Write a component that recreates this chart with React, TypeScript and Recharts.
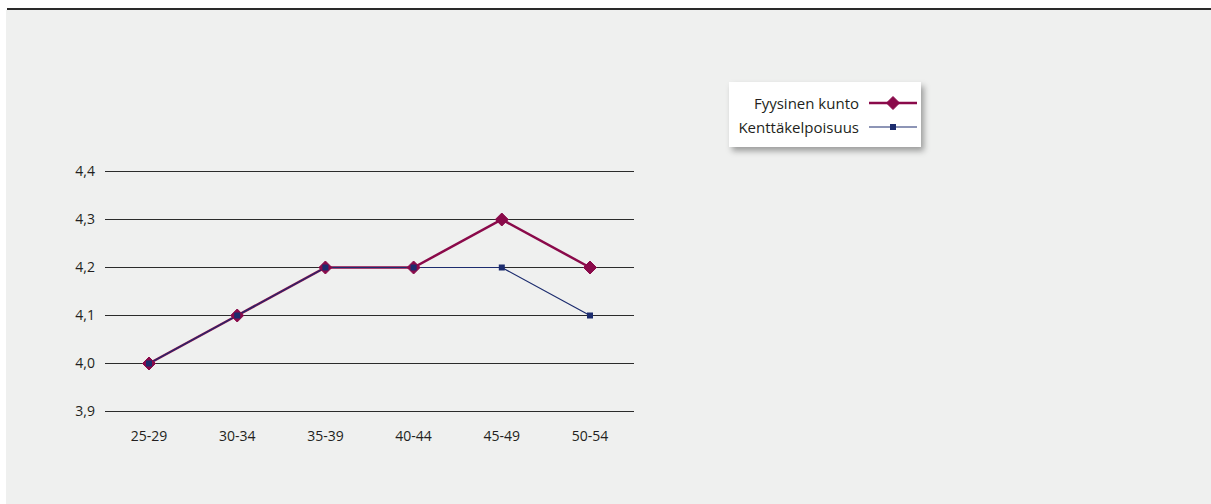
import React from "react";
import { LineChart, Line, XAxis, YAxis, CartesianGrid } from "recharts";

const ageGroups = ["25-29", "30-34", "35-39", "40-44", "45-49", "50-54"];
const fyysinenKunto = [4.0, 4.1, 4.2, 4.2, 4.3, 4.2];
const kenttakelpoisuus = [4.0, 4.1, 4.2, 4.2, 4.2, 4.1];
const yTicks = [3.9, 4.0, 4.1, 4.2, 4.3, 4.4];

const SERIES = [
  { key: "fyysinen", name: "Fyysinen kunto", color: "#8a0a4a" },
  { key: "kentta", name: "Kenttäkelpoisuus", color: "#1c2c6e" },
];

const data = ageGroups.map((g, i) => ({
  group: g,
  fyysinen: fyysinenKunto[i],
  kentta: kenttakelpoisuus[i],
}));

const FONT = "'Open Sans', 'Noto Sans', sans-serif";
const fmt = (v: number) => v.toFixed(1).replace(".", ",");

const Diamond = (props: any) => {
  const { cx, cy, color, r = 6 } = props;
  if (cx == null || cy == null) return null;
  return (
    <path
      d={`M${cx},${cy - r} L${cx + r},${cy} L${cx},${cy + r} L${cx - r},${cy} Z`}
      fill={color}
      stroke={color}
      strokeWidth={1}
    />
  );
};

const Square = (props: any) => {
  const { cx, cy, color, s = 6 } = props;
  if (cx == null || cy == null) return null;
  return <rect x={cx - s / 2} y={cy - s / 2} width={s} height={s} fill={color} />;
};

const LegendBox = () => (
  <div
    style={{
      position: "absolute",
      left: 729,
      top: 82,
      width: 192,
      height: 65,
      background: "#ffffff",
      boxShadow: "3px 4px 6px rgba(0,0,0,0.35)",
      fontFamily: FONT,
      fontSize: 15,
      color: "#231f20",
      boxSizing: "border-box",
      paddingTop: 9,
    }}
  >
    {SERIES.map((s, i) => (
      <div
        key={s.key}
        style={{ display: "flex", alignItems: "center", height: 24, justifyContent: "flex-end", paddingRight: 4 }}
      >
        <span style={{ marginRight: 10, lineHeight: "24px" }}>{s.name}</span>
        <svg width={48} height={16}>
          <line x1={0} y1={8} x2={48} y2={8} stroke={s.color} strokeWidth={i === 0 ? 2.5 : 1.2} />
          {i === 0 ? <Diamond cx={24} cy={8} color={s.color} r={6.5} /> : <Square cx={24} cy={8} color={s.color} s={6} />}
        </svg>
      </div>
    ))}
  </div>
);

export default function App() {
  return (
    <div style={{ position: "absolute", left: 0, top: 0, width: 1211, height: 504, background: "#ffffff", overflow: "hidden" }}>
      <div style={{ position: "absolute", left: 7, top: 8, width: 1204, height: 2, background: "#2a2a2a" }} />
      <div style={{ position: "absolute", left: 6, top: 10, width: 1205, height: 494, background: "#eff0ef" }} />
      <div style={{ position: "absolute", left: 0, top: 0 }}>
        <LineChart
          width={1211}
          height={504}
          data={data}
          margin={{ top: 171.5, right: 577, bottom: 62.5, left: 55 }}
        >
          <CartesianGrid horizontal vertical={false} stroke="#2b2b2b" strokeWidth={1} />
          <XAxis
            dataKey="group"
            axisLine={false}
            tickLine={false}
            tickSize={0}
            tickMargin={20}
            height={30}
            padding={{ left: 44, right: 44 }}
            tick={{ fill: "#231f20", fontSize: 14, fontFamily: FONT }}
          />
          <YAxis
            domain={[3.9, 4.4]}
            ticks={yTicks}
            allowDataOverflow
            width={50}
            axisLine={false}
            tickLine={false}
            tickSize={0}
            tickMargin={10}
            tickFormatter={fmt}
            tick={{ fill: "#231f20", fontSize: 14, fontFamily: FONT }}
          />
          <Line
            dataKey="fyysinen"
            name={SERIES[0].name}
            stroke={SERIES[0].color}
            strokeWidth={2.5}
            isAnimationActive={false}
            dot={(p: any) => <Diamond key={`d-${p.index}`} cx={p.cx} cy={p.cy} color={SERIES[0].color} r={6.5} />}
            activeDot={false}
          />
          <Line
            dataKey="kentta"
            name={SERIES[1].name}
            stroke={SERIES[1].color}
            strokeWidth={1.2}
            isAnimationActive={false}
            dot={(p: any) => <Square key={`s-${p.index}`} cx={p.cx} cy={p.cy} color={SERIES[1].color} s={6} />}
            activeDot={false}
          />
        </LineChart>
      </div>
      <LegendBox />
    </div>
  );
}
